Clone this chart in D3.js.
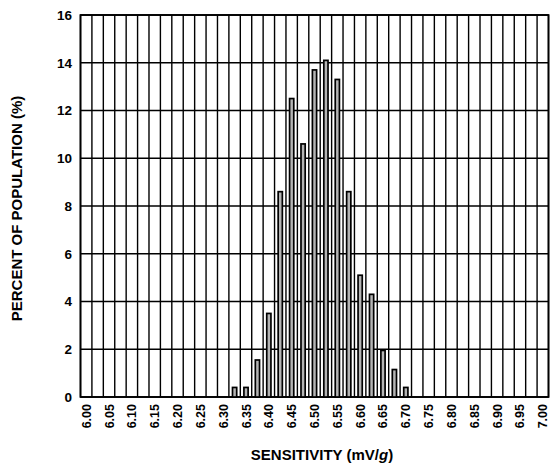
<!DOCTYPE html>
<html><head><meta charset="utf-8">
<script src="https://cdn.jsdelivr.net/npm/d3@7"></script>
<style>body{margin:0;background:#fff}svg{display:block}text{font-family:"Liberation Sans",Arial,sans-serif;font-weight:bold;fill:#000}</style>
</head><body><svg id="c" width="558" height="466"></svg>
<script>
const categories = d3.range(41).map(i => (6 + i*0.025).toFixed(3));
const barBins = ["6.325","6.350","6.375","6.400","6.425","6.450","6.475","6.500","6.525","6.550","6.575","6.600","6.625","6.650","6.675","6.700"];
const barValues = [0.4,0.4,1.55,3.5,8.6,12.5,10.6,13.7,14.1,13.3,8.6,5.1,4.3,1.95,1.15,0.4];
const xTickLabels = ["6.00","6.05","6.10","6.15","6.20","6.25","6.30","6.35","6.40","6.45","6.50","6.55","6.60","6.65","6.70","6.75","6.80","6.85","6.90","6.95","7.00"];
const yTicks = [0,2,4,6,8,10,12,14,16];

const svg = d3.select("#c");
const L=80.5, R=548.5, T=15, B=397;
const x = d3.scaleBand().domain(categories).range([L,R]);
const y = d3.scaleLinear().domain([0,16]).range([B,T]);

const g = svg.append("g");
g.selectAll("line.v").data(categories.concat(["end"])).enter().append("line")
  .attr("x1",(d,i)=>L+i*x.bandwidth()).attr("x2",(d,i)=>L+i*x.bandwidth())
  .attr("y1",T).attr("y2",B).attr("stroke","#000").attr("stroke-width",1.4);
g.selectAll("line.h").data(yTicks).enter().append("line")
  .attr("x1",L).attr("x2",R).attr("y1",d=>y(d)).attr("y2",d=>y(d))
  .attr("stroke","#000").attr("stroke-width",1.4);
svg.append("rect").attr("x",L).attr("y",T).attr("width",R-L).attr("height",B-T)
  .attr("fill","none").attr("stroke","#000").attr("stroke-width",1.8);

const bw = 4.2;
svg.selectAll("rect.bar").data(barBins).enter().append("rect")
  .attr("x",(d)=>x(d)+x.bandwidth()/2-bw/2)
  .attr("y",(d,i)=>y(barValues[i]))
  .attr("width",bw)
  .attr("height",(d,i)=>B-y(barValues[i]))
  .attr("fill","#b4b4b4").attr("stroke","#000").attr("stroke-width",1.7);

svg.selectAll("text.yt").data(yTicks).enter().append("text")
  .attr("x",72).attr("y",d=>y(d)).attr("dy","0.36em")
  .attr("text-anchor","end").attr("font-size",13.5).text(d=>d);

svg.selectAll("text.xt").data(xTickLabels).enter().append("text")
  .attr("transform",(d)=>{const cx=x((+d).toFixed(3))+x.bandwidth()/2; return `translate(${cx+4.5},404) rotate(-90)`;})
  .attr("text-anchor","end").attr("font-size",12.5).text(d=>d);

const xt = svg.append("text").attr("x",322).attr("y",460).attr("text-anchor","middle").attr("font-size",15);
xt.append("tspan").text("SENSITIVITY (mV/");
xt.append("tspan").attr("font-style","italic").text("g");
xt.append("tspan").text(")");
svg.append("text").attr("transform",`translate(22,208.5) rotate(-90)`)
  .attr("text-anchor","middle").attr("font-size",15).text("PERCENT OF POPULATION (%)");
</script></body></html>
